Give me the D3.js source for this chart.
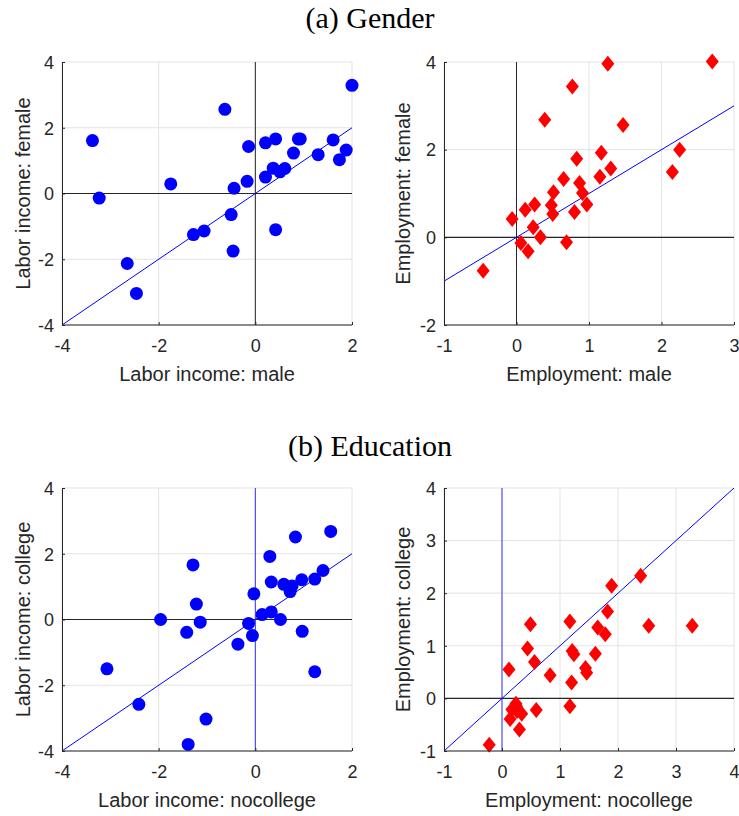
<!DOCTYPE html>
<html><head><meta charset="utf-8">
<script src="https://cdn.jsdelivr.net/npm/d3@7"></script>
<style>body{margin:0;background:#fff}svg{display:block}</style>
</head><body>
<svg id="c" width="739" height="816"></svg>
<script>
// ---- data ----
const incMale   = [-3.37,-3.23,-1.75,-0.63,-0.14,-0.44,-0.17,-0.50,-1.28,-1.06,-0.46,-2.65,-2.46,0.42,0.21,0.42,0.21,0.37,0.51,0.61,0.79,0.89,0.93,1.30,1.61,1.74,1.88,2.00];
const incFemale = [1.61,-0.14,0.29,2.56,1.43,0.16,0.37,-0.64,-1.25,-1.14,-1.75,-2.13,-3.04,-1.10,1.54,1.66,0.50,0.77,0.66,0.76,1.23,1.66,1.66,1.18,1.63,1.03,1.32,3.29];
const empMale   = [-0.46,-0.06,0.06,0.16,0.12,0.25,0.23,0.33,0.39,0.48,0.50,0.51,0.65,0.69,0.77,0.80,0.83,0.87,0.91,0.97,1.15,1.17,1.30,1.26,1.47,2.15,2.25,2.70];
const empFemale = [-0.76,0.42,-0.13,-0.32,0.63,0.75,0.23,0.00,2.68,0.73,0.53,1.03,1.33,-0.11,3.44,0.58,1.79,1.24,1.01,0.75,1.38,1.93,1.57,3.96,2.56,1.49,2.00,4.01];
const incNoCol  = [-3.07,-2.41,-1.96,-1.29,-1.22,-1.42,-1.14,-1.02,-1.39,-0.36,-0.14,-0.06,-0.03,0.14,0.33,0.52,0.30,0.33,0.59,0.72,0.76,0.83,0.96,0.97,1.23,1.23,1.40,1.56];
const incCol    = [-1.50,-2.58,0.00,1.66,0.47,-0.39,-0.08,-3.03,-3.80,-0.75,-0.12,-0.49,0.78,0.15,0.23,0.00,1.92,1.14,1.07,0.85,1.02,2.51,1.21,-0.36,1.23,-1.59,1.49,2.68];
const empNoCol  = [-0.22,0.12,0.14,0.17,0.24,0.26,0.34,0.30,0.25,0.49,0.44,0.56,0.59,0.83,1.17,1.21,1.24,1.20,1.17,1.44,1.46,1.61,1.65,1.78,1.82,1.89,2.39,2.53,3.28];
const empCol    = [-0.88,0.55,-0.39,-0.21,-0.10,-0.24,-0.29,-0.59,-0.15,1.41,0.95,0.69,-0.22,0.44,1.46,0.90,0.84,0.30,-0.15,0.58,0.49,0.85,1.35,1.22,1.65,2.14,2.33,1.38,1.38];

const ticksInc2 = [-4,-2,0,2];
const ticksIncY = [-4,-2,0,2,4];
const ticksEmpMX = [-1,0,1,2,3];
const ticksEmpFY = [-2,0,2,4];
const ticksEmpNX = [-1,0,1,2,3,4];
const ticksEmpCY = [-1,0,1,2,3,4];

const titles = ["(a) Gender","(b) Education"];

const panels = [
  {x:incMale, y:incFemale, xd:[-4,2], yd:[-4,4], xt:ticksInc2, yt:ticksIncY, xl:"Labor income: male", yl:"Labor income: female", m:"circle", L:62, T:62, vcol:"#262626"},
  {x:empMale, y:empFemale, xd:[-1,3], yd:[-2,4], xt:ticksEmpMX, yt:ticksEmpFY, xl:"Employment: male", yl:"Employment: female", m:"diamond", L:444, T:62, vcol:"#262626"},
  {x:incNoCol, y:incCol, xd:[-4,2], yd:[-4,4], xt:ticksInc2, yt:ticksIncY, xl:"Labor income: nocollege", yl:"Labor income: college", m:"circle", L:62, T:488, vcol:"#3333ff"},
  {x:empNoCol, y:empCol, xd:[-1,4], yd:[-1,4], xt:ticksEmpNX, yt:ticksEmpCY, xl:"Employment: nocollege", yl:"Employment: college", m:"diamond", L:444, T:488, vcol:"#3333ff"}
];

const W = 290, H = 263;
const svg = d3.select("#c");
const font = "'Liberation Sans', Arial, Helvetica, sans-serif";
const serif = "'Liberation Serif','DejaVu Serif',serif";

svg.append("text").attr("x",370).attr("y",28).attr("text-anchor","middle")
  .attr("font-family",serif).attr("font-size",30).attr("fill","#000").text(titles[0]);
svg.append("text").attr("x",370).attr("y",456).attr("text-anchor","middle")
  .attr("font-family",serif).attr("font-size",30).attr("fill","#000").text(titles[1]);

panels.forEach((p,i)=>{
  const g = svg.append("g").attr("transform",`translate(${p.L},${p.T})`);
  const xs = d3.scaleLinear().domain(p.xd).range([0,W]);
  const ys = d3.scaleLinear().domain(p.yd).range([H,0]);
  const cid = "clip"+i;
  g.append("clipPath").attr("id",cid).append("rect").attr("width",W).attr("height",H);

  // grid
  g.append("g").selectAll("line").data(p.xt).join("line")
    .attr("x1",d=>xs(d)).attr("x2",d=>xs(d)).attr("y1",0).attr("y2",H)
    .attr("stroke","#e3e3e3").attr("stroke-width",1);
  g.append("g").selectAll("line").data(p.yt).join("line")
    .attr("y1",d=>ys(d)).attr("y2",d=>ys(d)).attr("x1",0).attr("x2",W)
    .attr("stroke","#e3e3e3").attr("stroke-width",1);

  // zero lines
  g.append("line").attr("x1",0).attr("x2",W).attr("y1",ys(0)).attr("y2",ys(0))
    .attr("stroke","#262626").attr("stroke-width",1.2);
  g.append("line").attr("x1",xs(0)).attr("x2",xs(0)).attr("y1",0).attr("y2",H)
    .attr("stroke",p.vcol).attr("stroke-width",1);

  // 45-degree line
  const lo = Math.max(p.xd[0],p.yd[0]), hi = Math.min(p.xd[1],p.yd[1]);
  g.append("line").attr("clip-path",`url(#${cid})`)
    .attr("x1",xs(lo)).attr("y1",ys(lo)).attr("x2",xs(hi)).attr("y2",ys(hi))
    .attr("stroke","#0000ff").attr("stroke-width",1);

  // markers
  const pts = p.x.map((v,k)=>[v,p.y[k]]);
  if(p.m==="circle"){
    g.append("g").selectAll("circle").data(pts).join("circle")
      .attr("cx",d=>xs(d[0])).attr("cy",d=>ys(d[1])).attr("r",6.5).attr("fill","#0000ff");
  } else {
    g.append("g").selectAll("path").data(pts).join("path")
      .attr("d",d=>{const cx=xs(d[0]),cy=ys(d[1]);return `M${cx},${cy-8}L${cx+6.5},${cy}L${cx},${cy+8}L${cx-6.5},${cy}Z`;})
      .attr("fill","#ff0000");
  }

  // axes
  const ax = d3.axisBottom(xs).tickValues(p.xt).tickSize(-3).tickFormat(d3.format("d"));
  const ay = d3.axisLeft(ys).tickValues(p.yt).tickSize(-3).tickFormat(d3.format("d"));
  const gx = g.append("g").attr("transform",`translate(0,${H})`).call(ax);
  const gy = g.append("g").call(ay);
  [gx,gy].forEach(a=>{
    a.select(".domain").attr("stroke","#262626").attr("stroke-width",1);
    a.selectAll(".tick line").attr("stroke","#262626");
    a.selectAll(".tick text").attr("fill","#262626").attr("font-family",font).attr("font-size",18)
      .text(d=>String(d).replace("\u2212","-"));
  });
  gx.selectAll(".tick text").attr("y",14).attr("dy","0.71em");
  gy.selectAll(".tick text").attr("x",-8).attr("dy","0.35em");
  gx.select(".domain").attr("d",`M0.5,0H${W}`);
  gy.select(".domain").attr("d",`M0.5,${H}V0`);

  g.append("text").attr("x",W/2).attr("y",H+56).attr("text-anchor","middle")
    .attr("font-family",font).attr("font-size",20).attr("fill","#262626").text(p.xl);
  g.append("text").attr("transform",`translate(${i%2===0?-32:-34},${H/2}) rotate(-90)`).attr("text-anchor","middle")
    .attr("font-family",font).attr("font-size",20).attr("fill","#262626").text(p.yl);
});
</script>
</body></html>
